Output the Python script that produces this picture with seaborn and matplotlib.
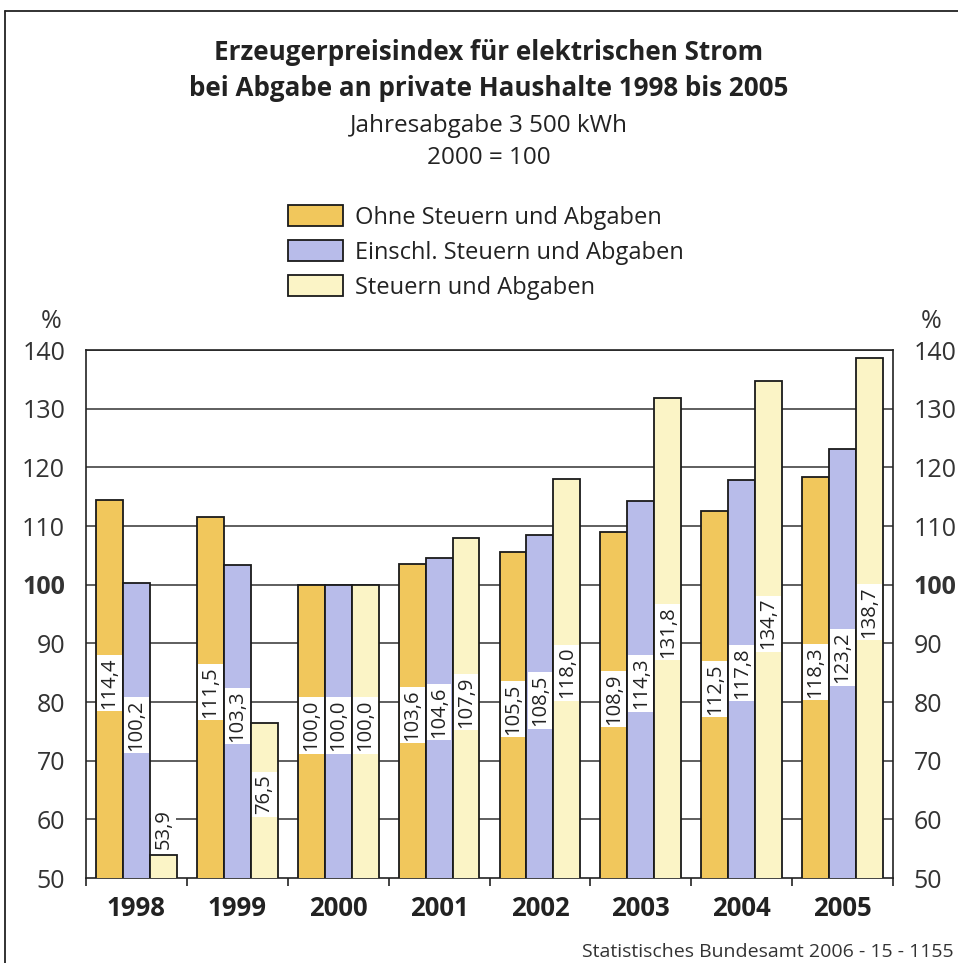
import matplotlib
matplotlib.use("Agg")
import matplotlib.pyplot as plt
import seaborn as sns
import pandas as pd
import numpy as np
from matplotlib.lines import Line2D

years = ["1998", "1999", "2000", "2001", "2002", "2003", "2004", "2005"]
series_names = ["Ohne Steuern und Abgaben", "Einschl. Steuern und Abgaben", "Steuern und Abgaben"]
ohne = [114.4, 111.5, 100.0, 103.6, 105.5, 108.9, 112.5, 118.3]
einschl = [100.2, 103.3, 100.0, 104.6, 108.5, 114.3, 117.8, 123.2]
steuern = [53.9, 76.5, 100.0, 107.9, 118.0, 131.8, 134.7, 138.7]
colors = ["#F1C75C", "#B8BCEA", "#FBF4C6"]
yticks = [50, 60, 70, 80, 90, 100, 110, 120, 130, 140]

sns.set_theme(style="white")
FONT = ["Open Sans", "DejaVu Sans"]
plt.rcParams["font.family"] = FONT
plt.rcParams["text.color"] = "#222222"

df = pd.DataFrame({
    "Jahr": years * 3,
    "Serie": sum([[s] * len(years) for s in series_names], []),
    "Wert": ohne + einschl + steuern,
})

W, H = 958, 963
fig = plt.figure(figsize=(W / 100, H / 100), dpi=100)
ax = fig.add_axes([86 / W, 1 - 878 / H, (893 - 86) / W, (878 - 350) / H])

sns.barplot(data=df, x="Jahr", y="Wert", hue="Serie", hue_order=series_names,
            palette=colors, width=0.8, gap=0, saturation=1, ax=ax,
            edgecolor="#1a1a1a", linewidth=1.3, zorder=3, legend=True)

ax.set_ylim(50, 140)
ax.set_xlim(-0.5, len(years) - 0.5)
ax.set_yticks(yticks)
ax.set_yticklabels([str(t) for t in yticks])
ax.set_xlabel("")
ax.set_ylabel("")

for y in yticks[1:]:
    ax.axhline(y, color="#333333", lw=1.1, zorder=1)

for sp in ax.spines.values():
    sp.set_color("#222222")
    sp.set_linewidth(1.2)

ax.tick_params(axis="y", left=False, right=False, labelleft=True, labelright=True,
               labelsize=18, pad=9, colors="#333333")
ax.tick_params(axis="x", which="major", bottom=False, labelsize=18.5, pad=6, colors="#222222")
ax.set_xticks(np.arange(-0.5, len(years), 1.0), minor=True)
ax.tick_params(axis="x", which="minor", bottom=True, length=6, width=1.2, color="#222222")
for lab in ax.get_xticklabels():
    lab.set_fontweight("bold")
for t in ax.yaxis.get_major_ticks():
    t.label2.set_horizontalalignment("left")
    if t.label1.get_text() == "100":
        t.label1.set_fontweight("bold")
        t.label2.set_fontweight("bold")

# value labels
for cont in ax.containers:
    for bar in cont:
        v = bar.get_height()
        xc = bar.get_x() + bar.get_width() / 2
        txt = f"{v:.1f}".replace(".", ",")
        if v - 50 < 12:
            yy, va = v + 1.0, "bottom"
        else:
            yy, va = (50 + v) / 2 + 1.0, "center"
        ax.text(xc, yy, txt, rotation=90, ha="center", va=va, fontsize=14.5,
                color="#222222", zorder=5,
                bbox=dict(boxstyle="square,pad=0.12", fc="white", ec="none"))

# legend
handles, labels = ax.get_legend_handles_labels()
ax.get_legend().remove()
fig.legend(handles, labels, loc="upper left", bbox_to_anchor=(288 / W, 1 - 205 / H),
           frameon=False, fontsize=17, handlelength=2.35, handleheight=0.98,
           labelspacing=0.45, handletextpad=0.5, borderpad=0, borderaxespad=0,
           labelcolor="#222222")

# titles
fig.text(489 / W, 1 - 52 / H, "Erzeugerpreisindex für elektrischen Strom", ha="center",
         va="center", fontsize=18.7, fontweight="bold", color="#222222")
fig.text(489 / W, 1 - 89 / H, "bei Abgabe an private Haushalte 1998 bis 2005", ha="center",
         va="center", fontsize=18.7, fontweight="bold", color="#222222")
fig.text(489 / W, 1 - 126 / H, "Jahresabgabe 3 500 kWh", ha="center", va="center",
         fontsize=17.5, color="#222222")
fig.text(489 / W, 1 - 158 / H, "2000 = 100", ha="center", va="center",
         fontsize=17.5, color="#222222")

fig.text(51 / W, 1 - 322 / H, "%", ha="center", va="center", fontsize=18, color="#333333")
fig.text(931 / W, 1 - 322 / H, "%", ha="center", va="center", fontsize=18, color="#333333")

fig.text(954 / W, 1 - 952 / H, "Statistisches Bundesamt 2006 - 15 - 1155", ha="right",
         va="center", fontsize=14, color="#333333")

# frame
fig.add_artist(Line2D([5 / W, 1.0], [1 - 11 / H, 1 - 11 / H], transform=fig.transFigure,
                      color="#222222", lw=1.3))
fig.add_artist(Line2D([5 / W, 5 / W], [1 - 11 / H, 0.0], transform=fig.transFigure,
                      color="#222222", lw=1.3))

fig.savefig("out.png", dpi=100, facecolor="white")
